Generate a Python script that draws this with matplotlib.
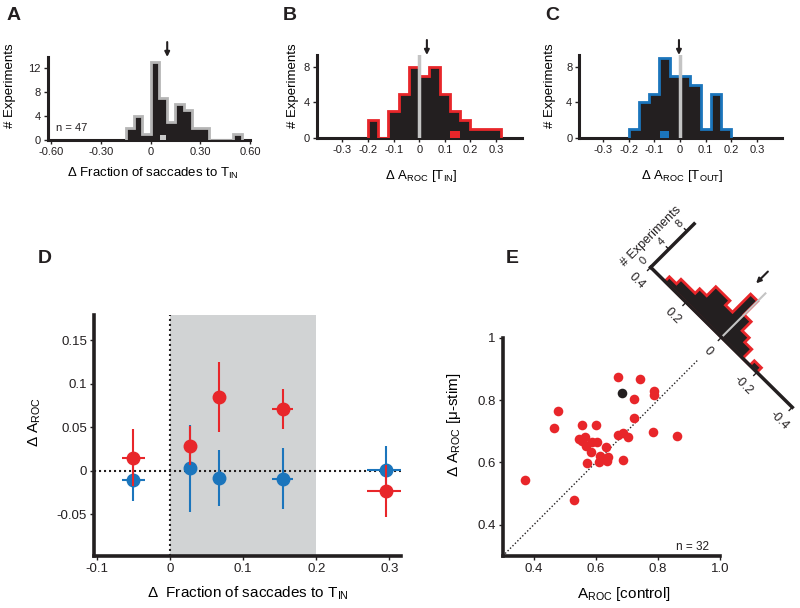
import numpy as np
import matplotlib.pyplot as plt
import matplotlib.transforms as mtransforms
from matplotlib.patches import Polygon, FancyArrowPatch
from matplotlib.lines import Line2D

plt.rcParams['font.family'] = ['Liberation Sans', 'DejaVu Sans']
plt.rcParams['mathtext.fontset'] = 'custom'
plt.rcParams['mathtext.rm'] = 'Liberation Sans'
plt.rcParams['mathtext.it'] = 'Liberation Sans:italic'
plt.rcParams['mathtext.bf'] = 'Liberation Sans:bold'
plt.rcParams['text.color'] = '#231f20'

RED = '#e8262a'
BLUE = '#1b75bc'
INK = '#231f20'
LIGHT = '#c4c4c4'
SHADE = '#d1d3d4'

# ---- data ----
# A: change in fraction of saccades to T_IN
a_edges = [-0.15, -0.10, -0.05, 0.0, 0.05, 0.10, 0.15, 0.20, 0.25, 0.30, 0.35, 0.40, 0.45, 0.50, 0.55]
a_counts = [2, 4, 1, 13, 7, 3, 6, 5, 2, 2, 0, 0, 0, 1]
a_example = 0.075
a_mean = 0.10

# B: change in A_ROC, T_IN
b_edges = [-0.20, -0.16, -0.12, -0.08, -0.04, 0.0, 0.04, 0.08, 0.12, 0.16, 0.20, 0.24, 0.28, 0.32]
b_counts = [2, 0, 3, 5, 8, 7, 8, 5, 3, 2, 1, 1, 1]
b_example = 0.14
b_mean = 0.03

# C: change in A_ROC, T_OUT
c_edges = [-0.20, -0.16, -0.12, -0.08, -0.04, 0.0, 0.04, 0.08, 0.12, 0.16, 0.20]
c_counts = [1, 4, 5, 9, 7, 7, 6, 1, 5, 1]
c_example = -0.06
c_mean = -0.004

# D: binned by behavioural effect
d_x = [-0.05, 0.028, 0.067, 0.154, 0.295]
d_xerr = [0.016, 0.004, 0.004, 0.014, 0.025]
d_red = [0.015, 0.029, 0.085, 0.071, -0.023]
d_red_err = [0.033, 0.022, 0.040, 0.023, 0.030]
d_blue = [-0.011, 0.003, -0.008, -0.009, 0.001]
d_blue_err = [0.024, 0.050, 0.032, 0.035, 0.027]

# E: A_ROC control vs. microstimulation
e_ctrl = [0.373, 0.465, 0.479, 0.530, 0.546, 0.555, 0.565, 0.568, 0.584, 0.573,
          0.587, 0.600, 0.605, 0.609, 0.632, 0.638, 0.635, 0.670, 0.741, 0.673,
          0.689, 0.703, 0.686, 0.724, 0.724, 0.786, 0.789, 0.784, 0.863, 0.556,
          0.615]
e_stim = [0.545, 0.712, 0.766, 0.481, 0.674, 0.720, 0.680, 0.653, 0.634, 0.597,
          0.667, 0.720, 0.667, 0.603, 0.648, 0.616, 0.605, 0.875, 0.866, 0.689,
          0.696, 0.682, 0.607, 0.805, 0.744, 0.830, 0.816, 0.699, 0.686, 0.668,
          0.622]
e_black = (0.684, 0.824)
e_edges = [-0.20, -0.16, -0.12, -0.08, -0.04, 0.0, 0.04, 0.08, 0.12, 0.16, 0.20, 0.24, 0.28, 0.32]
e_counts = [1, 0, 2, 3, 5, 8, 4, 5, 5, 3, 2, 2, 1]
e_mean = 0.055

W, H = 800, 608
fig = plt.figure(figsize=(W / 100, H / 100), dpi=100)


def add_ax(x0, y0, x1, y1):
    # pixel box (top-left origin) -> figure fraction
    return fig.add_axes([x0 / W, 1 - y1 / H, (x1 - x0) / W, (y1 - y0) / H])


def style(ax, lw=2.2, size=8):
    for s in ['top', 'right']:
        ax.spines[s].set_visible(False)
    for s in ['left', 'bottom']:
        ax.spines[s].set_linewidth(lw)
        ax.spines[s].set_color(INK)
    ax.tick_params(direction='out', length=3, width=1, labelsize=size, pad=2, colors=INK)


def hist(ax, edges, counts, ecol):
    ax.stairs(counts, edges, fill=True, color=INK, zorder=2)
    ax.stairs(counts, edges, color=ecol, lw=2, zorder=3)


def arrow_top(ax, x):
    ax.annotate('', xy=(x, 1.0), xycoords=('data', 'axes fraction'),
                xytext=(x, 1.18), textcoords=('data', 'axes fraction'),
                arrowprops=dict(arrowstyle='-|>', color=INK, lw=1.5, mutation_scale=7,
                                shrinkA=0, shrinkB=0),
                annotation_clip=False)


# ---- A ----
axA = add_ax(48, 57, 250, 140)
hist(axA, a_edges, a_counts, '#b5b5b5')
axA.bar(a_example, 0.8, width=0.036, color='#c8c8c8', zorder=4)
axA.set_xlim(-0.62, 0.6)
axA.set_ylim(0, 13.8)
axA.set_xticks([-0.6, -0.3, 0, 0.3, 0.6])
axA.set_xticklabels(['-0.60', '-0.30', '0', '0.30', '0.60'])
axA.set_yticks([0, 4, 8, 12])
style(axA)
axA.text(-0.57, 2.0, 'n = 47', fontsize=8, va='center')
axA.set_xlabel('Δ Fraction of saccades to T$_\\mathregular{IN}$', fontsize=9.5)
axA.xaxis.set_label_coords(0.52, -0.31)
axA.set_ylabel('# Experiments', fontsize=9.5)
axA.yaxis.set_label_coords(-0.158, 0.66)
arrow_top(axA, a_mean)

# ---- B ----
axB = add_ax(316.7, 55, 521.7, 138.3)
hist(axB, b_edges, b_counts, RED)
axB.bar(b_example, 0.85, width=0.036, color=RED, zorder=4)
axB.plot([0, 0], [0, 9.3], color=LIGHT, lw=2.5, zorder=5)
axB.set_xlim(-0.4, 0.4)
axB.set_ylim(0, 9.3)
axB.set_xticks([-0.3, -0.2, -0.1, 0, 0.1, 0.2, 0.3])
axB.set_xticklabels(['-0.3', '-0.2', '-0.1', '0', '0.1', '0.2', '0.3'])
axB.set_yticks([0, 4, 8])
style(axB)
axB.set_xlabel('Δ A$_\\mathregular{ROC}$ [T$_\\mathregular{IN}$]', fontsize=9.5)
axB.xaxis.set_label_coords(0.51, -0.36)
axB.set_ylabel('# Experiments', fontsize=9.5)
axB.yaxis.set_label_coords(-0.086, 0.63)
arrow_top(axB, b_mean)

# ---- C ----
axC = add_ax(579.3, 55, 781.7, 138.3)
hist(axC, c_edges, c_counts, BLUE)
axC.bar(c_example, 0.85, width=0.034, color=BLUE, zorder=4)
axC.plot([0, 0], [0, 9.3], color=LIGHT, lw=2.5, zorder=5)
axC.set_xlim(-0.392, 0.396)
axC.set_ylim(0, 9.3)
axC.set_xticks([-0.3, -0.2, -0.1, 0, 0.1, 0.2, 0.3])
axC.set_xticklabels(['-0.3', '-0.2', '-0.1', '0', '0.1', '0.2', '0.3'])
axC.set_yticks([0, 4, 8])
style(axC)
axC.set_xlabel('Δ A$_\\mathregular{ROC}$ [T$_\\mathregular{OUT}$]', fontsize=9.5)
axC.xaxis.set_label_coords(0.51, -0.36)
axC.set_ylabel('# Experiments', fontsize=9.5)
axC.yaxis.set_label_coords(-0.115, 0.63)
arrow_top(axC, c_mean)

# ---- D ----
axD = add_ax(94, 315, 401, 555.7)
axD.axvspan(0, 0.2, color=SHADE, lw=0, zorder=0)
axD.axvline(0, color=INK, ls=(0, (1, 1.4)), lw=1.5, zorder=1)
axD.axhline(0, color=INK, ls=(0, (1, 1.4)), lw=1.5, zorder=1)
axD.errorbar(d_x, d_blue, yerr=d_blue_err, xerr=d_xerr, fmt='o', color=BLUE,
             ms=9, elinewidth=1.5, capsize=0, zorder=3)
axD.errorbar(d_x, d_red, yerr=d_red_err, xerr=d_xerr, fmt='o', color=RED,
             ms=9, elinewidth=1.5, capsize=0, zorder=4)
axD.set_xlim(-0.104, 0.316)
axD.set_ylim(-0.0975, 0.179)
axD.set_xticks([-0.1, 0, 0.1, 0.2, 0.3])
axD.set_xticklabels(['-0.1', '0', '0.1', '0.2', '0.3'])
axD.set_yticks([-0.05, 0, 0.05, 0.1, 0.15])
axD.set_yticklabels(['-0.05', '0', '0.05', '0.1', '0.15'])
style(axD, lw=2.6, size=9.5)
axD.set_xlabel('Δ  Fraction of saccades to T$_\\mathregular{IN}$', fontsize=11)
axD.xaxis.set_label_coords(0.5, -0.118)
axD.set_ylabel('Δ A$_\\mathregular{ROC}$', fontsize=11)
axD.yaxis.set_label_coords(-0.166, 0.557)

# ---- E ----
axE = add_ax(502.7, 337.7, 720, 556)
axE.plot([0.3, 0.93], [0.3, 0.93], ls=(0, (1, 1.5)), color=INK, lw=1)
axE.scatter(e_ctrl, e_stim, s=48, color=RED, lw=0, zorder=3)
axE.scatter([e_black[0]], [e_black[1]], s=48, color=INK, lw=0, zorder=4)
axE.set_xlim(0.3, 1.0)
axE.set_ylim(0.3, 1.0)
axE.set_xticks([0.4, 0.6, 0.8, 1.0])
axE.set_xticklabels(['0.4', '0.6', '0.8', '1.0'])
axE.set_yticks([0.4, 0.6, 0.8, 1.0])
axE.set_yticklabels(['0.4', '0.6', '0.8', '1'])
style(axE, lw=2.6, size=9.5)
axE.text(0.91, 0.33, 'n = 32', fontsize=8.5, ha='center', va='center')
axE.set_xlabel('A$_\\mathregular{ROC}$ [control]', fontsize=11)
axE.xaxis.set_label_coords(0.56, -0.133)
axE.set_ylabel('Δ A$_\\mathregular{ROC}$ [μ-stim]', fontsize=11)
axE.yaxis.set_label_coords(-0.183, 0.6)

# rotated histogram of differences (value along the anti-diagonal, counts perpendicular)
M = np.array([[-177.0, 4.525, 721.5],
              [175.0, 4.525, 270.7],
              [0.0, 0.0, 1.0]])
T = mtransforms.Affine2D(M) + mtransforms.Affine2D().scale(1 / W, 1 / H) + fig.transFigure

verts = [(e_edges[0], 0)]
for i, c in enumerate(e_counts):
    verts += [(e_edges[i], c), (e_edges[i + 1], c)]
verts.append((e_edges[-1], 0))
fig.add_artist(Polygon(verts, closed=True, facecolor=INK, edgecolor=RED, lw=2,
                       transform=T, zorder=1))
fig.add_artist(Line2D([0, 0], [0, 9.7], transform=T, color=LIGHT, lw=1.5, zorder=2))
fig.add_artist(Line2D([0.4, -0.4], [0, 0], transform=T, color=INK, lw=2.5, zorder=3))
fig.add_artist(Line2D([0.4, 0.4], [0, 9.6], transform=T, color=INK, lw=2.5, zorder=3))
for v in [0.4, 0.2, 0, -0.2, -0.4]:
    fig.add_artist(Line2D([v, v], [0, -0.7], transform=T, color=INK, lw=1, zorder=3))
    fig.text(v, -3.0, f'{v:g}', transform=T, rotation=-45, rotation_mode='anchor',
             ha='center', va='center', fontsize=9)
for c in [0, 4, 8]:
    if c:
        fig.add_artist(Line2D([0.4, 0.414], [c, c], transform=T, color=INK, lw=1, zorder=3))
    fig.text(0.44, c, str(c), transform=T, rotation=45, rotation_mode='anchor',
             ha='center', va='center', fontsize=8)
fig.text(0.487, 3.4, '# Experiments', transform=T, rotation=45, rotation_mode='anchor',
         ha='center', va='center', fontsize=9)
fig.add_artist(FancyArrowPatch((e_mean, 12.4), (e_mean, 9.8), transform=T,
                               arrowstyle='-|>', mutation_scale=7, color=INK, lw=1.5,
                               shrinkA=0, shrinkB=0))

# panel letters
for letter, (px, py) in {'A': (14, 15), 'B': (290, 15), 'C': (552, 15),
                         'D': (45, 258), 'E': (512, 258)}.items():
    fig.text(px / W, 1 - py / H, letter, fontsize=14, fontweight='bold',
             ha='center', va='center')

fig.savefig('out.png', dpi=100)
